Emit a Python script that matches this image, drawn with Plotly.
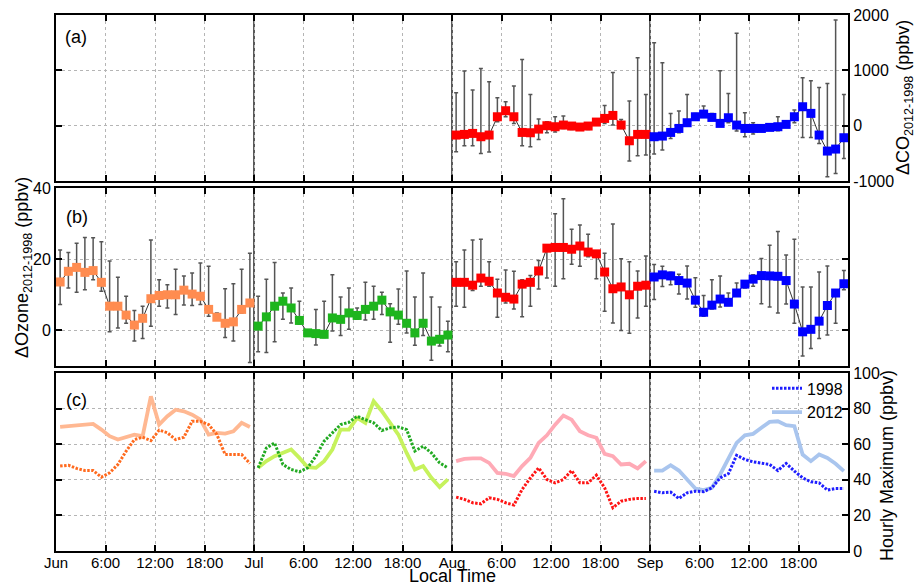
import plotly.graph_objects as go

FONT = "Arial, Liberation Sans, sans-serif"

months = ["Jun", "Jul", "Aug", "Sep"]
hours = list(range(24))
tick_hours = [0, 6, 12, 18, 24, 30, 36, 42, 48, 54, 60, 66, 72, 78, 84, 90]
tick_text = ["Jun", "6:00", "12:00", "18:00", "Jul", "6:00", "12:00", "18:00",
             "Aug", "6:00", "12:00", "18:00", "Sep", "6:00", "12:00", "18:00"]

# ---------------- Panel (a): delta CO (ppbv), Aug & Sep only ----------------
co_aug = [-170, -158, -140, -200, -170, 161, 270, 161, -122, -128, -62, -1,
          -19, 11, -7, -25, -7, 65, 131, 185, 11, -273, -158, -158]
co_aug_hi = [595, 987, 643, 1035, 794, 505, 433, 716, 1198, 565, 119, 71,
             161, 173, 41, 29, 29, 113, 366, 963, 113, 445, 1228, 565]
co_aug_lo = [-472, -363, -363, -502, -478, 71, 161, 41, -363, -381, -249, -128,
             -116, -50, -68, -80, -68, 17, 41, 11, -50, -640, -544, -532]

co_sep = [-200, -188, -122, -50, 53, 161, 209, 149, 41, 143, 11, -50,
          -50, -50, -31, -19, 23, 161, 342, 222, -170, -459, -423, -218]
co_sep_hi = [1499, 1138, 222, 264, 565, 222, 354, 222, 993, 583, 1668, 234,
             53, 11, 11, 161, 53, 282, 866, 812, 692, 764, 1909, 565]
co_sep_lo = [-514, -441, -230, -128, -7, 101, 161, 101, -7, 53, -98, -200,
             -152, -98, -80, -92, -7, 53, -212, -212, -321, -923, -863, -592]

# ---------------- Panel (b): delta ozone (ppbv) ----------------
o3_jun = [13.6, 16.6, 17.7, 16.3, 16.8, 13.5, 6.8, 6.8, 4.3, 1.5, 3.4, 8.9,
          9.8, 10.0, 10.0, 11.3, 10.2, 9.6, 5.9, 3.7, 2.0, 2.4, 5.9, 7.7]
o3_jun_hi = [22.6, 21.9, 24.5, 26.1, 26.0, 24.9, 19.5, 14.9, 9.6, 5.6, 6.8, 25.4,
             14.2, 12.8, 17.2, 15.3, 16.1, 18.9, 18.0, 4.9, 11.7, 13.1, 17.2, 21.7]
o3_jun_lo = [7.3, 11.9, 10.7, 11.4, 14.2, 11.0, -0.4, 0.7, 2.0, -3.0, -2.3, 1.2,
             6.8, 6.3, 4.5, 7.1, 7.0, 7.3, 4.0, 3.1, -2.0, -3.0, 4.9, -9.0]

o3_jul = [1.2, 3.8, 6.8, 8.2, 6.3, 2.8, -0.7, -0.9, -1.1, 3.5, 3.1, 4.9,
          4.2, 5.9, 6.8, 8.5, 5.2, 4.3, 2.0, -0.7, 2.0, -3.0, -2.5, -1.3]
o3_jul_hi = [9.6, 14.4, 19.1, 10.5, 11.9, 8.2, -0.3, 5.9, 8.2, 15.6, 9.4, 11.9,
             6.3, 13.5, 12.4, 10.7, 7.5, 11.6, 16.7, 9.4, 16.1, 9.4, 6.6, 2.6]
o3_jul_lo = [-6.0, -6.2, -3.2, 3.1, 2.1, 1.7, -1.1, -4.1, -2.0, -0.2, -1.4, 0.3,
             3.1, 2.9, 3.1, 4.5, -3.3, 1.7, -0.7, -4.2, -1.4, -8.4, -4.4, -6.0]

o3_aug = [13.5, 13.5, 12.7, 14.7, 13.8, 10.5, 9.3, 8.8, 13.0, 13.5, 16.7, 23.1,
          23.3, 23.3, 22.8, 23.7, 22.0, 21.5, 16.4, 11.7, 12.2, 10.0, 12.4, 12.7]
o3_aug_hi = [19.3, 22.6, 25.4, 25.6, 19.3, 14.4, 17.0, 16.6, 14.2, 15.4, 19.6, 23.5,
             32.8, 37.0, 28.4, 29.6, 27.0, 21.7, 21.7, 29.9, 20.1, 19.3, 16.7, 20.9]
o3_aug_lo = [6.8, 6.5, 11.2, 12.4, 12.4, 3.7, 7.7, 6.0, 3.8, 6.8, 11.6, 14.7,
             12.4, 14.5, 18.6, 18.0, 20.7, 14.5, 5.4, 2.1, 0.0, -0.8, 3.5, 6.8]

o3_sep = [15.0, 15.6, 15.3, 14.0, 13.3, 8.5, 5.1, 7.1, 8.8, 7.9, 10.5, 13.0,
          14.4, 15.4, 15.3, 15.2, 14.0, 7.4, -0.4, 0.3, 2.6, 7.0, 10.5, 13.1]
o3_sep_hi = [18.5, 18.0, 16.3, 15.8, 18.1, 14.8, 9.8, 14.2, 15.3, 10.5, 13.3, 13.8,
             15.6, 20.2, 23.9, 27.8, 21.2, 25.6, 12.2, 12.2, 16.4, 18.1, 9.8, 16.8]
o3_sep_lo = [8.7, 12.3, 12.8, 10.2, 8.8, 6.5, 4.0, 6.0, 6.6, 7.0, 9.6, 11.9,
             12.4, 7.5, 6.6, 4.9, 7.4, 2.0, -7.2, -5.1, -2.3, -1.3, 2.0, 11.4]

# ---------------- Panel (c): hourly maximum ozone (ppbv) ----------------
max1998_jun = [47.7, 48.2, 46.4, 45.2, 45.2, 41.5, 43.9, 48.6, 56.1, 62.6, 63.9, 62.0,
               67.9, 66.4, 62.6, 63.9, 72.9, 72.9, 71.0, 65.4, 54.2, 54.2, 54.2, 49.2]
max2012_jun = [69.7, 70.1, 70.3, 71.2, 71.4, 68.2, 64.5, 62.6, 63.9, 65.4, 64.5, 86.9,
               71.0, 75.7, 79.4, 78.5, 76.6, 73.8, 65.4, 66.4, 66.0, 67.3, 72.0, 69.7]
max1998_jul = [46.7, 57.9, 60.7, 48.6, 45.8, 44.5, 46.7, 53.3, 61.7, 66.4, 71.0, 72.3,
               75.7, 73.8, 72.0, 67.7, 69.2, 69.7, 68.2, 56.1, 58.9, 55.1, 49.5, 46.7]
max2012_jul = [46.7, 50.5, 53.3, 55.1, 57.0, 52.3, 47.1, 46.7, 50.5, 57.0, 68.2, 68.2,
               74.8, 72.0, 84.1, 78.5, 72.0, 65.4, 55.1, 45.8, 47.7, 41.1, 35.9, 40.2]
max1998_aug = [30.3, 29.0, 27.1, 26.5, 29.9, 29.0, 27.1, 25.8, 34.6, 41.1, 46.7, 40.2,
               38.3, 40.2, 45.2, 38.3, 38.3, 42.6, 35.5, 24.3, 28.0, 29.0, 29.5, 29.5]
max2012_aug = [50.5, 51.8, 52.0, 52.0, 49.5, 43.9, 43.4, 42.1, 47.7, 52.3, 60.7, 65.0,
               71.0, 76.1, 73.8, 67.3, 65.0, 63.6, 54.6, 53.3, 48.6, 49.0, 46.4, 50.5]
max1998_sep = [33.6, 32.7, 33.1, 29.5, 32.7, 33.6, 33.3, 35.5, 41.1, 43.4, 53.8, 51.4,
               50.1, 49.5, 48.6, 45.2, 49.2, 44.9, 41.1, 38.9, 38.3, 34.2, 35.1, 35.1]
max2012_sep = [45.2, 45.2, 48.2, 45.2, 40.2, 35.1, 34.2, 35.5, 43.0, 51.4, 60.7, 65.0,
               65.8, 69.2, 72.5, 72.9, 70.7, 70.1, 54.2, 50.5, 54.2, 52.3, 49.0, 44.9]

# ---------------- styles ----------------
marker_colors = {"Jun": "#FF8C50", "Jul": "#1DB51D", "Aug": "#FF0000", "Sep": "#0000FF"}
c1998 = {"Jun": "#FF6A1E", "Jul": "#22AA22", "Aug": "#FF1414", "Sep": "#1E1EFF"}
c2012 = {"Jun": "#FFB892", "Jul": "#C6F25C", "Aug": "#FFAAB6", "Sep": "#A9C5EE"}


def xs(mi):
    return [24 * mi + h + 0.5 for h in hours]


fig = go.Figure()


def add_err(mi, vals, hi, lo, xa, ya):
    m = months[mi]
    fig.add_trace(go.Scatter(
        x=xs(mi), y=vals, mode="lines+markers", xaxis=xa, yaxis=ya,
        line=dict(color="#333333", width=1),
        marker=dict(symbol="square", size=9, color=marker_colors[m],
                    line=dict(width=0)),
        error_y=dict(type="data", symmetric=False,
                     array=[h - v for h, v in zip(hi, vals)],
                     arrayminus=[v - l for l, v in zip(lo, vals)],
                     color="#555555", thickness=1.5, width=2),
        showlegend=False, hoverinfo="skip"))


# panel a
add_err(2, co_aug, co_aug_hi, co_aug_lo, "x3", "y3")
add_err(3, co_sep, co_sep_hi, co_sep_lo, "x3", "y3")
# panel b
for mi, (v, hi, lo) in enumerate([(o3_jun, o3_jun_hi, o3_jun_lo),
                                  (o3_jul, o3_jul_hi, o3_jul_lo),
                                  (o3_aug, o3_aug_hi, o3_aug_lo),
                                  (o3_sep, o3_sep_hi, o3_sep_lo)]):
    add_err(mi, v, hi, lo, "x2", "y2")
# panel c
pairs = [(max1998_jun, max2012_jun), (max1998_jul, max2012_jul),
         (max1998_aug, max2012_aug), (max1998_sep, max2012_sep)]
for mi, (a, b) in enumerate(pairs):
    m = months[mi]
    last = mi == 3
    fig.add_trace(go.Scatter(x=xs(mi), y=b, mode="lines", xaxis="x", yaxis="y",
                             line=dict(color=c2012[m], width=3.8),
                             name="2012", showlegend=last, legendrank=2,
                             hoverinfo="skip"))
    fig.add_trace(go.Scatter(x=xs(mi), y=a, mode="lines", xaxis="x", yaxis="y",
                             line=dict(color=c1998[m], width=3, dash="2.5px,1.5px"),
                             name="1998", showlegend=last, legendrank=1,
                             hoverinfo="skip"))

# ---------------- layout ----------------
W, H = 917, 585
ml, mr, mt, mb = 56, 69, 15, 34
pw, ph = W - ml - mr, H - mt - mb


def py(pix):
    return 1 - (pix - mt) / ph


def px(pix):
    return (pix - ml) / pw


dom_a = [py(181), 1.0]
dom_b = [py(366), py(188)]
dom_c = [0.0, py(373)]

xcommon = dict(range=[0, 96], tickvals=tick_hours, ticks="inside", ticklen=6,
               tickwidth=2, tickcolor="black", showline=True, linecolor="black",
               linewidth=2, mirror="ticks", showgrid=True, gridcolor="#b5b5b5",
               griddash="dot", gridwidth=1, zeroline=False)
ycommon = dict(ticks="inside", ticklen=6, tickwidth=2, tickcolor="black",
               showline=True, linecolor="black", linewidth=2, mirror="ticks",
               showgrid=True, gridcolor="#b5b5b5", griddash="dot", gridwidth=1,
               zeroline=False, tickfont=dict(family=FONT, size=16, color="black"))

fig.update_layout(
    width=W, height=H,
    margin=dict(l=ml, r=mr, t=mt, b=mb, autoexpand=False),
    paper_bgcolor="white", plot_bgcolor="white",
    font=dict(family=FONT, color="black"),
    xaxis=dict(**xcommon, ticktext=tick_text, showticklabels=True,
               tickfont=dict(family=FONT, size=15, color="black"),
               ticklabelstandoff=-3, anchor="y", domain=[0, 1]),
    xaxis2=dict(**xcommon, showticklabels=False, anchor="y2", domain=[0, 1],
                matches="x"),
    xaxis3=dict(**xcommon, showticklabels=False, anchor="y3", domain=[0, 1],
                matches="x"),
    yaxis=dict(**ycommon, domain=dom_c, range=[0, 100], side="right",
               tickvals=[0, 20, 40, 60, 80, 100], anchor="x"),
    yaxis2=dict(**ycommon, domain=dom_b, range=[-10, 40], side="left",
                tickvals=[0, 20, 40], anchor="x2"),
    yaxis3=dict(**ycommon, domain=dom_a, range=[-1000, 2000], side="right",
                tickvals=[-1000, 0, 1000, 2000],
                ticktext=["-1000", "0", "1000", "2000"], anchor="x3"),
    legend=dict(x=1.0, xanchor="right", y=dom_c[1] + 0.003, yanchor="top",
                bgcolor="rgba(0,0,0,0)", font=dict(family=FONT, size=16),
                itemwidth=30, tracegroupgap=0, traceorder="normal"),
)

# month boundary lines
shapes = []
for xa, ya in [("x", "y"), ("x2", "y2"), ("x3", "y3")]:
    for b in [24, 48, 72]:
        shapes.append(dict(type="line", xref=xa, yref=ya + " domain",
                           x0=b, x1=b, y0=0, y1=1,
                           line=dict(color="black", width=1.3), layer="below"))
fig.update_layout(shapes=shapes)

ann = [
    dict(text="(a)", x=px(63), y=py(37), xref="paper", yref="paper",
         xanchor="left", yanchor="middle", showarrow=False,
         font=dict(family=FONT, size=18)),
    dict(text="(b)", x=px(64), y=py(217), xref="paper", yref="paper",
         xanchor="left", yanchor="middle", showarrow=False,
         font=dict(family=FONT, size=18)),
    dict(text="(c)", x=px(64), y=py(400), xref="paper", yref="paper",
         xanchor="left", yanchor="middle", showarrow=False,
         font=dict(family=FONT, size=18)),
    dict(text="ΔCO<sub>2012-1998</sub> (ppbv)", x=px(905), y=py(98),
         xref="paper", yref="paper", xanchor="center", yanchor="middle",
         textangle=-90, showarrow=False, font=dict(family=FONT, size=18)),
    dict(text="ΔOzone<sub>2012-1998</sub> (ppbv)", x=px(23), y=py(268),
         xref="paper", yref="paper", xanchor="center", yanchor="middle",
         textangle=-90, showarrow=False, font=dict(family=FONT, size=18)),
    dict(text="Hourly Maximum (ppbv)", x=px(887), y=py(466),
         xref="paper", yref="paper", xanchor="center", yanchor="middle",
         textangle=-90, showarrow=False, font=dict(family=FONT, size=18)),
    dict(text="Local Time", x=px(452), y=py(576), xref="paper", yref="paper",
         xanchor="center", yanchor="middle", showarrow=False,
         font=dict(family=FONT, size=18)),
]
fig.update_layout(annotations=ann)

fig.write_html(
    "out.html",
    config={"displayModeBar": False},
    post_script="document.body.style.margin='0';document.body.style.padding='0';"
                "document.body.style.overflow='hidden';",
)
